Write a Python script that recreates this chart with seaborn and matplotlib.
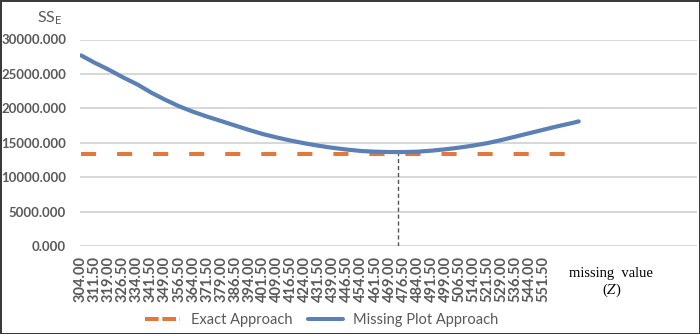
import matplotlib
matplotlib.use('Agg')
import matplotlib.pyplot as plt
from matplotlib.lines import Line2D
import seaborn as sns
import pandas as pd

# 결측값 후보 Z 와 그에 따른 SSE
z_values = [304.00, 311.50, 319.00, 326.50, 334.00, 341.50, 349.00, 356.50, 364.00,
            371.50, 379.00, 386.50, 394.00, 401.50, 409.00, 416.50, 424.00, 431.50,
            439.00, 446.50, 454.00, 461.50, 469.00, 476.50, 484.00, 491.50, 499.00,
            506.50, 514.00, 521.50, 529.00, 536.50, 544.00, 551.50, 559.00, 566.50, 570.25]
sse_missing = [27700, 26600, 25600, 24500, 23500, 22300, 21250, 20300, 19500,
               18800, 18150, 17500, 16850, 16250, 15750, 15300, 14900, 14550,
               14250, 14000, 13800, 13700, 13650, 13650, 13700, 13850, 14050,
               14300, 14600, 14950, 15400, 15900, 16400, 16900, 17400, 17850, 18100]
exact_sse = 13400
z_opt = 473.5
tick_z = [304.00, 311.50, 319.00, 326.50, 334.00, 341.50, 349.00, 356.50, 364.00,
          371.50, 379.00, 386.50, 394.00, 401.50, 409.00, 416.50, 424.00, 431.50,
          439.00, 446.50, 454.00, 461.50, 469.00, 476.50, 484.00, 491.50, 499.00,
          506.50, 514.00, 521.50, 529.00, 536.50, 544.00, 551.50]
y_ticks = [0, 5000, 10000, 15000, 20000, 25000, 30000]

df = pd.DataFrame({'Z': z_values, 'missing': sse_missing})
df['exact'] = exact_sse

sns.set_style('white')
plt.rcParams['font.family'] = ['Lato', 'DejaVu Sans']
plt.rcParams['mathtext.fontset'] = 'stix'

blue = '#5b80b5'
orange = '#e2793a'
grey_txt = '#595959'

fig = plt.figure(figsize=(7, 3.34), dpi=100)
fig.patch.set_edgecolor('#3a3a3a')
fig.patch.set_linewidth(2)
ax = fig.add_axes([80/700, 88/334, 617/700, 206.5/334])

# 그리드
for y in y_ticks:
    ax.axhline(y, color='#d4d4d4', lw=1.3, zorder=0)

sns.lineplot(data=df, x='Z', y='exact', ax=ax, color=orange, lw=2.9,
             dashes=False, zorder=2).lines[-1].set_dashes((3.75, 5.2))
sns.lineplot(data=df, x='Z', y='missing', ax=ax, color=blue, lw=3.0,
             zorder=3, solid_capstyle='round')

# 최소점 수직 점선
ax.plot([z_opt, z_opt], [0, 13650], color='#555555', lw=1.0, ls=(0, (3, 2)), zorder=1)

ax.set_xlim(303.5, 633.5)
ax.set_ylim(0, 30000)
ax.set_xticks(tick_z)
ax.set_xticklabels([f'{v:.2f}' for v in tick_z], rotation=90, fontsize=10.5,
                   fontweight='bold', color=grey_txt)
ax.set_yticks(y_ticks)
ax.set_yticklabels([f'{v:.3f}' for v in y_ticks], fontsize=9.5,
                   fontweight='bold', color=grey_txt)
ax.tick_params(axis='x', length=0, pad=7)
ax.tick_params(axis='y', length=0, pad=10)
ax.set_xlabel('')
ax.set_ylabel('')
for s in ax.spines.values():
    s.set_visible(False)

fig.text(37/700, 1 - 18/334, r'$\mathregular{SS_E}$', fontsize=11.5,
         color=grey_txt, ha='left', va='center')
fig.text(611/700, 1 - 273/334, 'missing  value', family='Liberation Serif',
         fontsize=10.5, color='black', ha='center', va='center')
fig.text(612/700, 1 - 290/334, r'($Z$)', family='Liberation Serif',
         fontsize=10.5, color='black', ha='center', va='center')

handles = [Line2D([], [], color=orange, lw=2.9, dashes=(3.4, 0.9)),
           Line2D([], [], color=blue, lw=2.9)]
fig.legend(handles, ['Exact Approach', 'Missing Plot Approach'],
           loc='center', bbox_to_anchor=(322/700, 1 - 320/334), ncol=2,
           frameon=False, fontsize=10.5, handlelength=2.4, handletextpad=0.7,
           columnspacing=1.1, labelcolor=grey_txt)

fig.savefig('out.png', dpi=100, edgecolor=fig.get_edgecolor())
